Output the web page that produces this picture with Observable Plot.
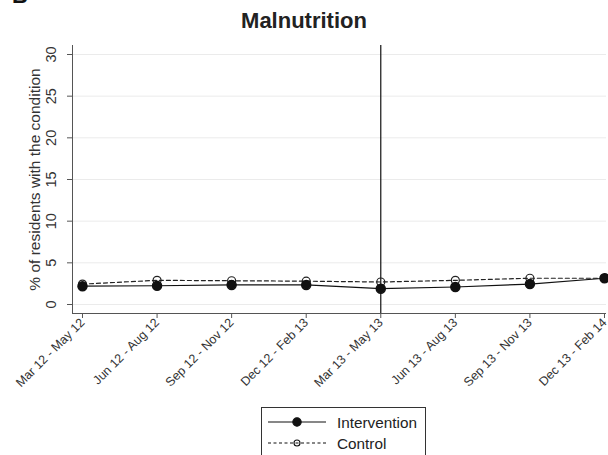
<!DOCTYPE html>
<html>
<head>
<meta charset="utf-8">
<script src="https://cdn.jsdelivr.net/npm/d3@7"></script>
<script src="https://cdn.jsdelivr.net/npm/@observablehq/plot@0.6"></script>
<style>
  html, body { margin: 0; padding: 0; background: white; }
  #wrap { position: relative; width: 608px; height: 455px; overflow: hidden; font-family: "Liberation Sans", Arial, sans-serif; }
  #chart { position: absolute; left: 0; top: 0; }
  #overlay { position: absolute; left: 0; top: 0; pointer-events: none; }
</style>
</head>
<body>
<div id="wrap">
  <div id="chart"></div>
  <svg id="overlay" width="608" height="455"></svg>
</div>
<script>
const periods = ["Mar 12 - May 12", "Jun 12 - Aug 12", "Sep 12 - Nov 12", "Dec 12 - Feb 13",
                 "Mar 13 - May 13", "Jun 13 - Aug 13", "Sep 13 - Nov 13", "Dec 13 - Feb 14"];
const intervention = [2.2, 2.25, 2.35, 2.35, 1.9, 2.1, 2.45, 3.15];
const control = [2.45, 2.9, 2.85, 2.8, 2.7, 2.9, 3.15, 3.15];
const yTicks = [0, 5, 10, 15, 20, 25, 30];
const interventionStart = "Mar 13 - May 13";
const seriesNames = ["Intervention", "Control"];
const titleText = "Malnutrition";
const panelLetter = "B";

const xDomain = [-0.134, 7.027];
const yDomain = [-1.08, 31.08];
const idx = (d, i) => i;
const font = "'Liberation Sans', Arial, sans-serif";

const chart = Plot.plot({
  width: 608,
  height: 400,
  marginLeft: 72,
  marginRight: 2,
  marginTop: 45,
  marginBottom: 87,
  style: { fontFamily: font, fontSize: "12.5px", color: "#333", background: "white", overflow: "visible" },
  x: { domain: xDomain },
  y: { domain: yDomain },
  marks: [
    Plot.gridY(yTicks, { stroke: "#ebebeb", strokeOpacity: 1, strokeWidth: 1 }),
    Plot.ruleX([periods.indexOf(interventionStart)], { stroke: "#111", strokeWidth: 1.2 }),
    Plot.lineY(control, { x: idx, y: d => d, stroke: "#222", strokeWidth: 1.2, strokeDasharray: "4,3" }),
    Plot.dot(control, { x: idx, y: d => d, r: 4, stroke: "#222", fill: "none", strokeWidth: 1.2 }),
    Plot.lineY(intervention, { x: idx, y: d => d, stroke: "#111", strokeWidth: 1.2 }),
    Plot.dot(intervention, { x: idx, y: d => d, r: 4.5, fill: "#111", stroke: "#111" }),
    Plot.ruleY([yDomain[0]], { stroke: "#555", strokeWidth: 1 }),
    Plot.ruleX([xDomain[0]], { stroke: "#555", strokeWidth: 1 }),
    Plot.axisX(d3.range(periods.length), {
      tickFormat: i => periods[i], tickRotate: -45, tickSize: 5, tickPadding: 2,
      stroke: "#555", fill: "#333", label: null
    }),
    Plot.axisY(yTicks, {
      tickRotate: -90, tickSize: 5, tickPadding: 12, stroke: "#555", fill: "#333", fontSize: 14.5,
      label: "% of residents with the condition", labelAnchor: "center", labelArrow: "none", labelOffset: 44
    })
  ]
});
document.getElementById("chart").appendChild(chart);
d3.select(chart).selectAll("g[aria-label='y-axis label'] text").attr("font-size", 15.5);

const ov = d3.select("#overlay");
ov.append("text").attr("x", 12).attr("y", 3).text(panelLetter)
  .attr("font-family", font).attr("font-weight", "bold").attr("font-size", 22).attr("fill", "#111");
ov.append("text").attr("x", 304).attr("y", 28).attr("text-anchor", "middle").text(titleText)
  .attr("font-family", font).attr("font-weight", "bold").attr("font-size", 22).attr("fill", "#222");

const box = { x: 261.5, y: 407.5, w: 164, h: 80 };
ov.append("rect").attr("x", box.x).attr("y", box.y).attr("width", box.w).attr("height", box.h)
  .attr("fill", "white").attr("stroke", "#333").attr("stroke-width", 1);
const rows = [
  { name: seriesNames[0], dash: null, fill: "#111", r: 4.2 },
  { name: seriesNames[1], dash: "3,2.5", fill: "none", r: 3 }
];
rows.forEach((row, k) => {
  const y = 422 + k * 21;
  ov.append("line").attr("x1", 268).attr("x2", 326).attr("y1", y).attr("y2", y)
    .attr("stroke", "#111").attr("stroke-width", 1.2).attr("stroke-dasharray", row.dash);
  ov.append("circle").attr("cx", 297).attr("cy", y).attr("r", row.r)
    .attr("fill", row.fill).attr("stroke", "#111").attr("stroke-width", 1.1);
  ov.append("text").attr("x", 337).attr("y", y + 5.5).text(row.name)
    .attr("font-family", font).attr("font-size", 15.3).attr("fill", "#222");
});
</script>
</body>
</html>
